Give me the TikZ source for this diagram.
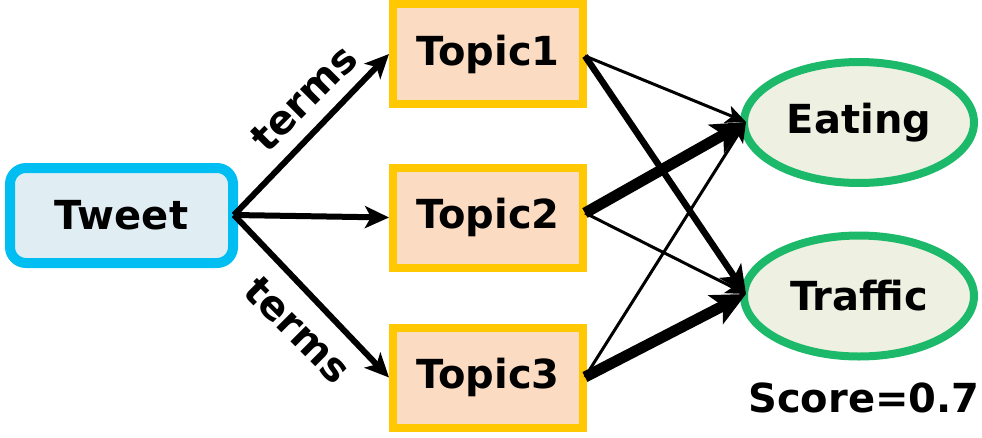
\documentclass[tikz,border=0pt]{standalone}
\usepackage{fontspec}
\setmainfont{DejaVu Sans}
\usetikzlibrary{arrows.meta,shapes.geometric}
\definecolor{tweetb}{HTML}{00BDF2}
\definecolor{tweetf}{HTML}{E0EEF4}
\definecolor{topicb}{HTML}{FFC800}
\definecolor{topicf}{HTML}{FBDCC2}
\definecolor{catb}{HTML}{1DB96A}
\definecolor{catf}{HTML}{EEF0E2}
\tikzset{
  lbl/.style={font=\fontsize{40}{44}\selectfont\bfseries},
  tweetbox/.style={lbl,draw=tweetb,fill=tweetf,line width=10pt,rounded corners=16pt,minimum width=223pt,minimum height=95pt,inner sep=0pt},
  topicbox/.style={lbl,draw=topicb,fill=topicf,line width=8pt,minimum width=190pt,minimum height=100pt,inner sep=0pt},
  catnode/.style={lbl,ellipse,draw=catb,fill=catf,line width=8pt,minimum width=230pt,minimum height=121pt,inner sep=0pt},
  conn/.style={draw=black,-{Stealth[length=24pt,width=22pt,inset=6pt]},line width=6pt},
  thin/.style={draw=black,-{Stealth[length=20pt,width=18pt,inset=5pt]},line width=3pt},
  med/.style={draw=black,-{Stealth[length=28pt,width=26pt,inset=7pt]},line width=6.5pt},
  thick/.style={draw=black,-{Stealth[length=34pt,width=32pt,inset=8pt]},line width=11pt},
  termlbl/.style={font=\fontsize{40}{44}\selectfont\bfseries,inner sep=0pt}
}
\begin{document}
\begin{tikzpicture}[x=1pt,y=1pt]
\useasboundingbox (0,0) rectangle (982,-437);
\node[tweetbox] (tweet) at (121.5,-215.5) {Tweet};
\node[topicbox] (t1) at (488,-54) {Topic1};
\node[topicbox] (t2) at (488,-217.5) {Topic2};
\node[topicbox] (t3) at (488,-377.5) {Topic3};
\node[catnode] (eat) at (859,-122.5) {Eating};
\node[catnode] (tra) at (859,-296) {Traffic};
\node[lbl,inner sep=0pt] (score) at (864,-398) {Score=0.7};
\coordinate (ts) at (234,-215);
\coordinate (e1) at (585,-56);
\coordinate (e2) at (585,-213);
\coordinate (e3) at (585,-377);
\coordinate (eatw) at (746,-122);
\coordinate (traw) at (746,-294);
\draw[conn] (ts) -- (t1.west);
\draw[conn] (ts) -- (t2.west);
\draw[conn] (ts) -- (t3.west);
\node[termlbl,rotate=45] (lt1) at (304,-98) {terms};
\node[termlbl,rotate=-45] (lt3) at (298,-330) {terms};
\draw[thin] (e1) -- (eatw);
\draw[med] (e1) -- (traw);
\draw[thick] (e2) -- (eatw);
\draw[thin] (e2) -- (traw);
\draw[thin] (e3) -- (eatw);
\draw[thick] (e3) -- (traw);
\end{tikzpicture}
\end{document}
